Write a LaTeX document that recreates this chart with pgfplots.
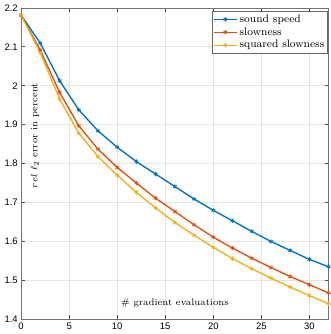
\documentclass[border=0pt]{standalone}
\usepackage{fontspec}
\usepackage{pgfplots}
\pgfplotsset{compat=1.18}
\newfontfamily\ticksf{Liberation Sans}

\definecolor{mblue}{rgb}{0,0.447,0.741}
\definecolor{mred}{rgb}{0.85,0.325,0.098}
\definecolor{myellow}{rgb}{0.929,0.694,0.125}

\begin{document}
\begin{tikzpicture}
\begin{axis}[
    width=227pt, height=230pt,
    scale only axis,
    xmin=0, xmax=32,
    ymin=1.4, ymax=2.2,
    xtick={0,5,10,15,20,25,30},
    ytick={1.4,1.5,1.6,1.7,1.8,1.9,2.0,2.1,2.2},
    tick label style={font=\ticksf\scriptsize},
    /pgf/number format/assume math mode=true,
    xticklabel style={yshift=1pt},
    yticklabel style={xshift=1pt},
    tick align=inside,
    major tick length=3pt,
    grid=major,
    grid style={black!10, line width=0.4pt},
    axis line style={black!55},
    every tick/.style={black!70},
    xlabel={\# gradient evaluations},
    ylabel={$rel~\ell_2$ error in percent},
    label style={font=\scriptsize},
    xlabel style={at={(axis description cs:0.5,0.052)}, anchor=center},
    ylabel style={at={(axis description cs:0.045,0.59)}, anchor=center},
    legend style={at={(0.998,0.99)}, anchor=north east, font=\fontsize{8}{9.5}\selectfont,
        draw=black!60, fill=white, inner sep=1pt, row sep=-0.5pt,
        nodes={inner sep=1.5pt}},
    legend cell align=left,
    every axis plot/.append style={line width=1pt, mark=asterisk, mark size=1.6pt, mark options={line width=0.6pt}},
]
\addplot[color=mblue] coordinates {
(0,2.181)(2,2.109)(4,2.013)(6,1.938)(8,1.884)(10,1.842)(12,1.805)(14,1.773)
(16,1.741)(18,1.709)(20,1.680)(22,1.653)(24,1.626)(26,1.600)(28,1.577)(30,1.554)(32,1.535)
};
\addlegendentry{sound speed}
\addplot[color=mred] coordinates {
(0,2.181)(2,2.091)(4,1.983)(6,1.897)(8,1.837)(10,1.790)(12,1.750)(14,1.711)
(16,1.677)(18,1.643)(20,1.611)(22,1.583)(24,1.557)(26,1.533)(28,1.510)(30,1.489)(32,1.468)
};
\addlegendentry{slowness}
\addplot[color=myellow] coordinates {
(0,2.181)(2,2.084)(4,1.966)(6,1.878)(8,1.818)(10,1.770)(12,1.726)(14,1.686)
(16,1.649)(18,1.616)(20,1.585)(22,1.556)(24,1.530)(26,1.506)(28,1.483)(30,1.461)(32,1.440)
};
\addlegendentry{squared slowness}
\end{axis}
\end{tikzpicture}
\end{document}
